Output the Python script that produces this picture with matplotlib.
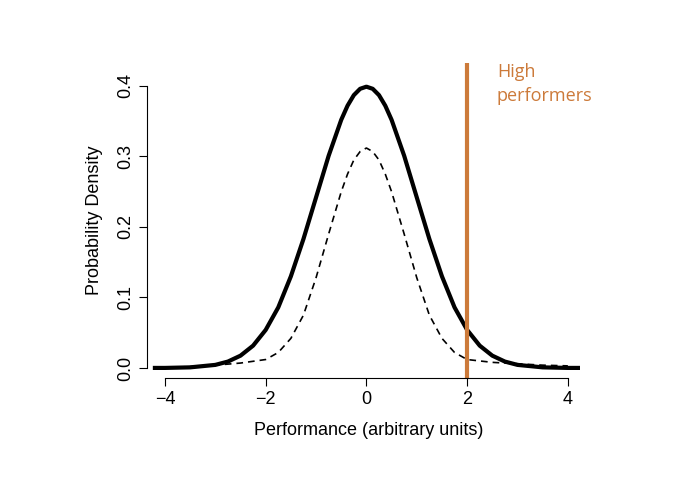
import numpy as np
import matplotlib.pyplot as plt

# Values
x_solid = [-4.2, -4.0, -3.5, -3.0, -2.75, -2.5, -2.25, -2.0, -1.75, -1.5, -1.25, -1.0, -0.75, -0.5,
           -0.375, -0.25, -0.125, 0.0, 0.125, 0.25, 0.375,
           0.5, 0.75, 1.0, 1.25, 1.5, 1.75, 2.0, 2.25, 2.5, 2.75, 3.0, 3.5, 4.0, 4.2]
y_solid = [0.0001, 0.0001, 0.0009, 0.0044, 0.0091, 0.0175, 0.0317, 0.054, 0.086, 0.130, 0.183, 0.242, 0.301, 0.352,
           0.372, 0.387, 0.396, 0.399, 0.396, 0.387, 0.372,
           0.352, 0.301, 0.242, 0.183, 0.130, 0.086, 0.054, 0.0317, 0.0175, 0.0091, 0.0044, 0.0009, 0.0001, 0.0001]
x_dash = [-4.2, -3.5, -3.0, -2.5, -2.0, -1.75, -1.5, -1.25, -1.0, -0.75, -0.5, -0.375, -0.25, -0.125, 0.0,
          0.125, 0.25, 0.375, 0.5, 0.75, 1.0, 1.25, 1.5, 1.75, 2.0, 2.5, 3.0, 3.5, 4.0]
y_dash = [0.0, 0.002, 0.004, 0.007, 0.012, 0.022, 0.042, 0.075, 0.128, 0.19, 0.25, 0.275, 0.295, 0.307, 0.312,
          0.307, 0.295, 0.275, 0.25, 0.19, 0.128, 0.075, 0.042, 0.022, 0.012, 0.008, 0.006, 0.004, 0.003]
cutoff = 2
label = "High\nperformers"
orange = "#cc7a3a"

plt.rcParams["font.family"] = ["Liberation Sans", "DejaVu Sans"]
fig = plt.figure(figsize=(6.8, 4.82), dpi=100)
ax = fig.add_axes([147/680, 1-378/482, (590-147)/680, (378-63)/482])
ax.plot(x_solid, y_solid, color="black", lw=3, solid_joinstyle="round")
ax.plot(x_dash, y_dash, color="black", lw=1.2, ls=(0, (4, 3)))
ax.axvline(cutoff, color=orange, lw=3)
ax.set_xlim(-4.357, 4.44)
ax.set_ylim(-0.0142, 0.4326)
ax.spines["top"].set_visible(False)
ax.spines["right"].set_visible(False)
ax.spines["bottom"].set_bounds(-4, 4)
ax.spines["left"].set_bounds(0, 0.4)
ax.set_xticks([-4, -2, 0, 2, 4], ["\u22124", "\u22122", "0", "2", "4"])
ax.set_yticks([0.0, 0.1, 0.2, 0.3, 0.4], ["0.0", "0.1", "0.2", "0.3", "0.4"])
ax.tick_params(axis="y", labelrotation=90, labelsize=13, length=6)
ax.tick_params(axis="x", labelsize=13, length=6)
for t in ax.get_yticklabels():
    t.set_va("center")
ax.set_xlabel("Performance (arbitrary units)", fontsize=13, labelpad=10)
ax.set_ylabel("Probability Density", fontsize=13, labelpad=10)
fig.text(497/680, 1-63/482, label, color=orange, fontsize=13, va="top", ha="left",
         linespacing=1.4, family="Open Sans")
fig.savefig("out.png", dpi=100)
